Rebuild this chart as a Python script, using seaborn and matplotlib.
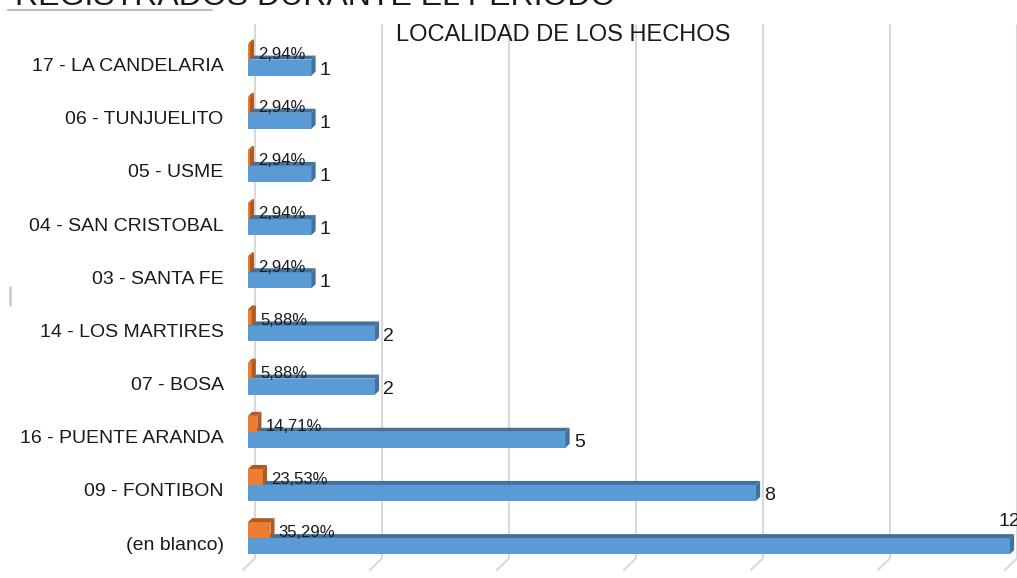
import pandas as pd
import matplotlib.pyplot as plt
import seaborn as sns
from matplotlib.patches import Polygon
from matplotlib.lines import Line2D
from matplotlib.transforms import ScaledTranslation

# datos
localidades = ["17 - LA CANDELARIA", "06 - TUNJUELITO", "05 - USME",
               "04 - SAN CRISTOBAL", "03 - SANTA FE", "14 - LOS MARTIRES",
               "07 - BOSA", "16 - PUENTE ARANDA", "09 - FONTIBON", "(en blanco)"]
cuenta = [1, 1, 1, 1, 1, 2, 2, 5, 8, 12]
porcentaje = [2.94, 2.94, 2.94, 2.94, 2.94, 5.88, 5.88, 14.71, 23.53, 35.29]
xticks = [0, 2, 4, 6, 8, 10, 12]

AZUL, AZUL_OSC = "#5B9BD5", "#41719C"
NARANJA, NARANJA_OSC = "#ED7D31", "#AE5A21"
GRIS = "#D9D9D9"

df = pd.DataFrame({
    "localidad": localidades * 2,
    "valor": [p / 100 for p in porcentaje] + cuenta,
    "serie": ["Porcentaje"] * len(localidades) + ["Cuenta"] * len(localidades),
})

sns.set_style("white")
plt.rcParams['font.family'] = ['Liberation Sans', 'DejaVu Sans']

W, H = 1017, 578
fig = plt.figure(figsize=(W / 100, H / 100), dpi=100)
ax = fig.add_axes([248 / W, 8 / H, 769 / W, 545 / H])

sns.barplot(data=df, y="localidad", x="valor", hue="serie",
            hue_order=["Porcentaje", "Cuenta"], palette=[NARANJA, AZUL],
            orient="h", width=0.6, saturation=1, legend=False, ax=ax,
            linewidth=0, zorder=3)

xmax = 769 / 63.5
ax.set_xlim(0, xmax)
ax.set_ylim(9.6, -0.65)
ax.set_xlabel("")
ax.set_ylabel("")
ax.set_xticks([])
sns.despine(ax=ax, left=True, bottom=True)
ax.tick_params(axis="y", length=0, pad=17.5, labelsize=14, labelcolor="#1a1a1a")
for lbl in ax.get_yticklabels():
    lbl.set_transform(lbl.get_transform() + ScaledTranslation(0, -0.05, fig.dpi_scale_trans))

# efecto 3D: cara superior y lateral
dx, dy = 0.065, 0.075
caras = [(NARANJA, NARANJA_OSC, 5), (AZUL, AZUL_OSC, 4)]
for cont, (col, osc, z) in zip(ax.containers, caras):
    for p in cont.patches:
        p.set_zorder(z)
        x0, y0 = p.get_x(), p.get_y()
        w, h = p.get_width(), p.get_height()
        top = Polygon([(x0, y0), (x0 + dx, y0 - dy), (x0 + w + dx, y0 - dy), (x0 + w, y0)],
                      closed=True, facecolor=osc, edgecolor="none", zorder=z)
        side = Polygon([(x0 + w, y0), (x0 + w + dx, y0 - dy), (x0 + w + dx, y0 + h - dy), (x0 + w, y0 + h)],
                       closed=True, facecolor=osc, edgecolor="none", zorder=z)
        ax.add_patch(top)
        ax.add_patch(side)

# etiquetas de porcentaje y cuenta
for p, pct in zip(ax.containers[0].patches, porcentaje):
    yc = p.get_y() + p.get_height() / 2
    ax.annotate(f"{pct:.2f}%".replace(".", ","), (p.get_width() + dx, yc),
                xytext=(3, -2), textcoords="offset points", ha="left", va="center",
                fontsize=12, color="#1a1a1a", zorder=6)
for p, n in zip(ax.containers[1].patches, cuenta):
    yc = p.get_y() + p.get_height() / 2
    if p.get_width() > xmax * 0.95:
        ax.annotate(str(n), (p.get_width(), p.get_y()), xytext=(-8, 6),
                    textcoords="offset points", ha="left", va="bottom",
                    fontsize=14, color="#1a1a1a", zorder=6, annotation_clip=False)
    else:
        ax.annotate(str(n), (p.get_width() + dx, yc), xytext=(3, -2),
                    textcoords="offset points", ha="left", va="center",
                    fontsize=14, color="#1a1a1a", zorder=6)

# rejilla (pared del fondo) y lineas del piso
y_top, y_bot = -0.65, 9.6
gdx, gdy = 0.11, 0.22
for t in xticks:
    ax.plot([t + gdx, t + gdx], [y_top, y_bot - gdy], color=GRIS, lw=1.5, zorder=0, clip_on=False)
    ax.plot([t + gdx, t - 0.08], [y_bot - gdy, y_bot], color=GRIS, lw=1.5, zorder=0, clip_on=False)

# titulos
fig.text(563 / W, 1 - 35 / H, "LOCALIDAD DE LOS HECHOS", ha="center", va="center",
         fontsize=17, color="#1a1a1a")
fig.text(15 / W, 1 - 5 / H, "REGISTRADOS DURANTE EL PERIODO", ha="left", va="baseline",
         fontsize=23, color="#1a1a1a")
fig.add_artist(Line2D([8 / W, 212 / W], [1 - 10 / H] * 2, color="#BFBFBF", lw=1.5))
fig.add_artist(Line2D([10 / W, 10 / W], [1 - 287 / H, 1 - 305 / H], color="#D0D0D0", lw=2))

fig.savefig("out.png", dpi=100)
